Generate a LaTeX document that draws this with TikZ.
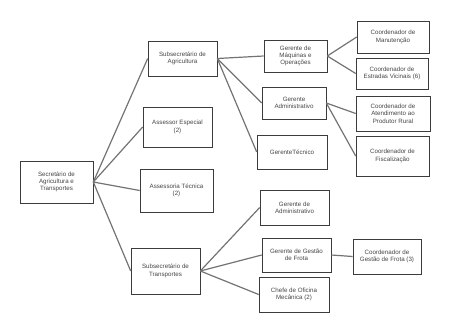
\documentclass[tikz,border=0pt]{standalone}
\usepackage{fontspec}
\setmainfont{Liberation Sans}
\usepackage{tikz}
\definecolor{boxline}{RGB}{60,60,60}
\definecolor{linkgray}{RGB}{115,115,115}
\definecolor{textgray}{RGB}{70,70,70}

\begin{document}
\begin{tikzpicture}[x=1pt,y=-1pt,
  unit/.style={draw=boxline, line width=0.6pt, fill=white, align=center,
    inner sep=1pt, text=textgray, font=\fontsize{6.2}{7.3}\selectfont},
  link/.style={draw=linkgray, line width=1.2pt}]
\useasboundingbox (0,0) rectangle (461,321);
% level 0
\node[unit, minimum width=73pt, minimum height=42pt] (sec) at (56.5,182) {Secretário de\\Agricultura e\\Transportes};
% level 1
\node[unit, minimum width=69pt, minimum height=35pt] (subagr) at (182.5,58.5) {Subsecretário de\\Agricultura};
\node[unit, minimum width=69pt, minimum height=40pt] (assesp) at (177.5,127) {Assessor Especial\\(2)};
\node[unit, minimum width=73pt, minimum height=43pt] (asstec) at (176.5,190.5) {Assessoria Técnica\\(2)};
\node[unit, minimum width=69pt, minimum height=46pt] (subtra) at (165.5,271) {Subsecretário de\\Transportes};
% level 2
\node[unit, minimum width=63pt, minimum height=32pt] (germaq) at (295.5,56) {Gerente de\\Máquinas e\\Operações};
\node[unit, minimum width=64pt, minimum height=32pt] (geradm) at (294,103) {Gerente\\Administrativo};
\node[unit, minimum width=70pt, minimum height=34pt] (gertec) at (292,152) {GerenteTécnico};
\node[unit, minimum width=69pt, minimum height=35pt] (gerdad) at (294.5,207.5) {Gerente de\\Administrativo};
\node[unit, minimum width=69pt, minimum height=34pt] (gerfro) at (296.5,255) {Gerente de Gestão\\de Frota};
\node[unit, minimum width=70pt, minimum height=35pt] (chefe) at (294,294.5) {Chefe de Oficina\\Mecânica (2)};
% level 3
\node[unit, minimum width=72pt, minimum height=32pt] (coman) at (393,37) {Coordenador de\\Manutenção};
\node[unit, minimum width=72pt, minimum height=31pt] (coest) at (392,73.5) {Coordenador de\\Estradas Vicinais (6)};
\node[unit, minimum width=74pt, minimum height=35pt] (coate) at (393,113.5) {Coordenador de\\Atendimento ao\\Produtor Rural};
\node[unit, minimum width=73pt, minimum height=40pt] (cofis) at (392.5,156) {Coordenador de\\Fiscalização};
\node[unit, minimum width=68pt, minimum height=35pt] (cofro) at (387,256.5) {Coordenador de\\Gestão de Frota (3)};
% links
\foreach \to in {subagr,assesp,asstec,subtra}
  \draw[link] (sec.east) -- (\to.west);
\foreach \to in {germaq,geradm,gertec}
  \draw[link] (subagr.east) -- (\to.west);
\foreach \to in {coman,coest}
  \draw[link] (germaq.east) -- (\to.west);
\foreach \to in {coate,cofis}
  \draw[link] (geradm.east) -- (\to.west);
\foreach \to in {gerdad,gerfro,chefe}
  \draw[link] (subtra.east) -- (\to.west);
\draw[link] (gerfro.east) -- (cofro.west);
\end{tikzpicture}
\end{document}
